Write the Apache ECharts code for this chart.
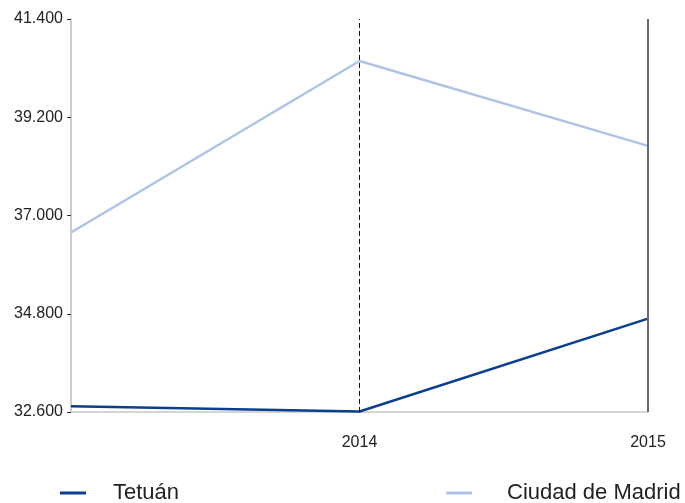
<!DOCTYPE html>
<html><head><meta charset="utf-8">
<script src="https://cdn.jsdelivr.net/npm/echarts@6/dist/echarts.min.js"></script>
<style>html,body{margin:0;padding:0;background:#fff}#c{width:685px;height:503px}</style>
</head><body><div id="c"></div>
<script>
const categories = ["2013", "2014", "2015"];
const tetuan = [32.73, 32.61, 34.69];
const madrid = [36.62, 40.46, 38.56];
const yTicks = { min: 32.6, max: 41.4, interval: 2.2 };

const chart = echarts.init(document.getElementById('c'));
const font = 'Liberation Sans, Arial, sans-serif';
chart.setOption({
  animation: false,
  backgroundColor: '#fff',
  grid: { left: 71, right: 37, top: 19, bottom: 91 },
  legend: [
    { data: [{ name: 'Tetuán', icon: 'rect' }], left: 55, top: 477, itemWidth: 26, itemHeight: 3, itemGap: 0,
      textStyle: { fontFamily: font, fontSize: 22, color: '#222', padding: [0, 0, 0, 22] } },
    { data: [{ name: 'Ciudad de Madrid', icon: 'rect' }], left: 441, top: 477, itemWidth: 26, itemHeight: 3,
      textStyle: { fontFamily: font, fontSize: 22, color: '#222', padding: [0, 0, 0, 30] } }
  ],
  xAxis: {
    type: 'category', data: categories, boundaryGap: false,
    axisLine: { lineStyle: { color: '#c8c8c8', width: 1.5 } },
    axisTick: { show: false },
    axisLabel: { fontFamily: font, fontSize: 16, color: '#222', margin: 23,
      formatter: (v, i) => i === 0 ? '' : v },
    splitLine: { show: false }
  },
  yAxis: {
    type: 'value', min: yTicks.min, max: yTicks.max, interval: yTicks.interval,
    axisLine: { show: true, lineStyle: { color: '#bdbdbd', width: 1.5 } },
    axisTick: { show: true, length: 4, lineStyle: { color: '#333' } },
    axisLabel: { fontFamily: font, fontSize: 16, color: '#222', margin: 8,
      formatter: v => v.toFixed(3) },
    splitLine: { show: false }
  },
  series: [
    { name: 'Tetuán', type: 'line', data: tetuan, symbol: 'none',
      lineStyle: { color: '#0a3f8f', width: 2.5 }, itemStyle: { color: '#0a3f8f' },
      markLine: { silent: true, symbol: 'none', label: { show: false },
        data: [
          { xAxis: '2014', lineStyle: { color: '#111', type: [5, 3], width: 1 } },
          { xAxis: '2015', lineStyle: { color: '#6a6a6a', type: 'solid', width: 2 } }
        ] } },
    { name: 'Ciudad de Madrid', type: 'line', data: madrid, symbol: 'none',
      lineStyle: { color: '#aec4e6', width: 2.5 }, itemStyle: { color: '#aec4e6' } }
  ]
});
</script></body></html>
